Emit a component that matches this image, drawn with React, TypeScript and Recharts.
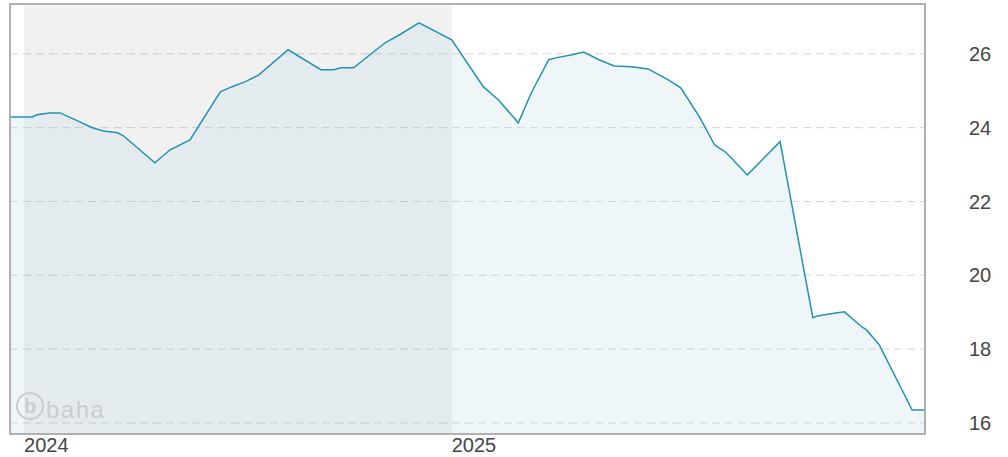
import { ComposedChart, Area, XAxis, YAxis, CartesianGrid, ReferenceArea } from 'recharts'

// weekly-ish closing values
const DATES = [
  '2023-12-20', '2024-01-08', '2024-01-12', '2024-01-23', '2024-02-01', '2024-02-14',
  '2024-02-29', '2024-03-09', '2024-03-21', '2024-03-26', '2024-04-22', '2024-05-05',
  '2024-05-22', '2024-06-17', '2024-06-27', '2024-07-08', '2024-07-20', '2024-08-14',
  '2024-09-11', '2024-09-22', '2024-09-28', '2024-10-09', '2024-11-05', '2024-11-17',
  '2024-12-04', '2025-01-01', '2025-01-28', '2025-02-10', '2025-02-27', '2025-03-10',
  '2025-03-25', '2025-03-31', '2025-04-13', '2025-04-24', '2025-05-07', '2025-05-20',
  '2025-06-04', '2025-06-18', '2025-07-05', '2025-07-16', '2025-08-01', '2025-08-14',
  '2025-08-24', '2025-09-11', '2025-10-09', '2025-11-06', '2025-11-10', '2025-11-20',
  '2025-12-03', '2025-12-18', '2025-12-22', '2026-01-02', '2026-01-30', '2026-02-10',
]

const PRICES = [
  24.29, 24.29, 24.35, 24.40, 24.40, 24.21,
  23.99, 23.91, 23.86, 23.78, 23.05, 23.40,
  23.67, 24.97, 25.11, 25.24, 25.43, 26.11,
  25.57, 25.57, 25.62, 25.62, 26.30, 26.51,
  26.84, 26.38, 25.11, 24.75, 24.13, 24.94,
  25.84, 25.89, 25.97, 26.05, 25.84, 25.67,
  25.65, 25.59, 25.30, 25.08, 24.29, 23.53,
  23.32, 22.72, 23.62, 18.85, 18.90, 18.95,
  19.01, 18.60, 18.52, 18.11, 16.35, 16.35,
]

const Y_TICKS = [16, 18, 20, 22, 24, 26]
const Y_DOMAIN = [15.7, 27.35]
const YEAR_TICKS = ['2024-01-01', '2025-01-01']
const SHADED_YEAR = ['2024-01-01', '2025-01-01']

const ts = (d: string) => {
  const [y, m, day] = d.split('-').map(Number)
  return Date.UTC(y, m - 1, day)
}

const data = DATES.map((d, i) => ({ t: ts(d), v: PRICES[i] }))
const X_DOMAIN = [ts(DATES[0]), ts(DATES[DATES.length - 1])]

const LINE = '#2391b6'
const FONT = '"Liberation Sans", Arial, sans-serif'
const LABEL = { fill: '#454545', fontSize: 20, fontFamily: FONT }

function Watermark() {
  return (
    <svg width={1008} height={457} style={{ position: 'absolute', left: 0, top: 0, pointerEvents: 'none' }}>
      <circle cx={30} cy={406} r={13} fill="none" stroke="#c9cdcf" strokeWidth={2} />
      <text x={30} y={413} textAnchor="middle" fontSize={20} fontWeight="bold" fontFamily={FONT} fill="#c9cdcf">b</text>
      <text x={46} y={418} fontSize={24} letterSpacing={1.5} fontFamily={FONT} fill="#c9cdcf">baha</text>
    </svg>
  )
}

export default function App() {
  return (
    <div style={{ position: 'absolute', left: 0, top: 0, width: 1008, height: 457, background: '#fff' }}>
      <ComposedChart width={1008} height={457} data={data} margin={{ top: 4, right: 0, bottom: 0, left: 10 }}>
        <CartesianGrid vertical={false} stroke="#d6d6d6" strokeDasharray="8 5" />
        <ReferenceArea x1={ts(SHADED_YEAR[0])} x2={ts(SHADED_YEAR[1])} fill="#000" fillOpacity={0.055} stroke="none" />
        <XAxis
          dataKey="t"
          type="number"
          scale="time"
          domain={X_DOMAIN}
          ticks={YEAR_TICKS.map(ts)}
          tickFormatter={(v: number) => String(new Date(v).getUTCFullYear())}
          height={23}
          tickSize={0}
          tickMargin={4}
          tickLine={false}
          axisLine={false}
          tick={{ ...LABEL, textAnchor: 'start' }}
          interval={0}
        />
        <YAxis
          orientation="right"
          type="number"
          domain={Y_DOMAIN}
          ticks={Y_TICKS}
          width={83}
          tickSize={0}
          tickMargin={44}
          tickLine={false}
          axisLine={false}
          tick={{ ...LABEL, textAnchor: 'start' }}
          interval={0}
        />
        <Area
          type="linear"
          dataKey="v"
          stroke={LINE}
          strokeWidth={1.5}
          fill="rgb(176,213,227)"
          fillOpacity={0.22}
          dot={false}
          activeDot={false}
          isAnimationActive={false}
        />
        <ReferenceArea
          x1={X_DOMAIN[0]} x2={X_DOMAIN[1]} y1={Y_DOMAIN[0]} y2={Y_DOMAIN[1]}
          fill="none" fillOpacity={0} stroke="#b0b0b0" strokeWidth={2} ifOverflow="visible"
        />
      </ComposedChart>
      <Watermark />
    </div>
  )
}
